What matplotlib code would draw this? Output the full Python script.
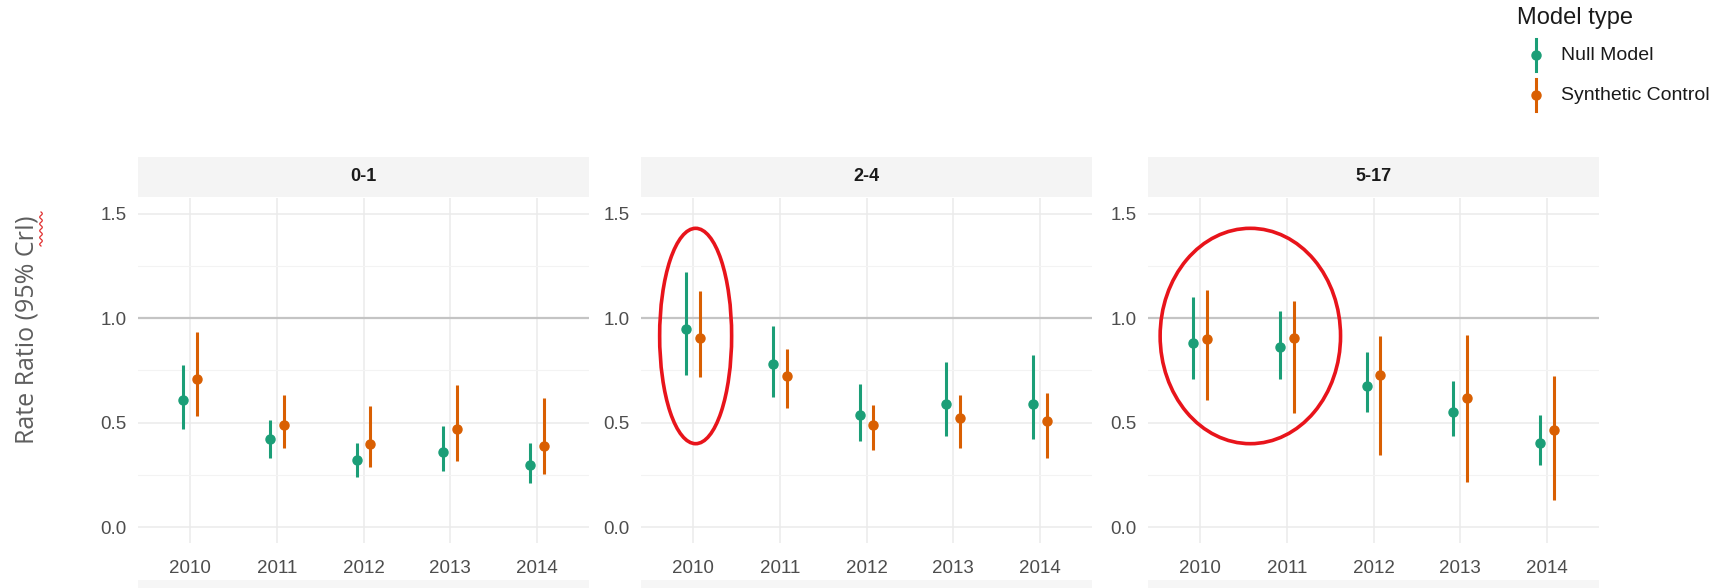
import numpy as np
import matplotlib.pyplot as plt
from matplotlib.patches import Ellipse, Rectangle
from matplotlib.lines import Line2D

years = [2010, 2011, 2012, 2013, 2014]
age_groups = ["0-1", "2-4", "5-17"]
model_types = ["Null Model", "Synthetic Control"]

# rate ratio estimates with 95% CrI, one row per age group
null_mid = [[0.61, 0.42, 0.32, 0.36, 0.30],
            [0.95, 0.78, 0.535, 0.59, 0.59],
            [0.88, 0.86, 0.675, 0.55, 0.405]]
null_lo = [[0.47, 0.33, 0.24, 0.27, 0.21],
           [0.73, 0.625, 0.415, 0.435, 0.42],
           [0.71, 0.71, 0.55, 0.435, 0.30]]
null_hi = [[0.775, 0.515, 0.405, 0.485, 0.405],
           [1.22, 0.965, 0.685, 0.79, 0.825],
           [1.10, 1.035, 0.84, 0.70, 0.535]]

synth_mid = [[0.71, 0.49, 0.40, 0.47, 0.39],
             [0.905, 0.725, 0.49, 0.525, 0.51],
             [0.90, 0.905, 0.73, 0.62, 0.465]]
synth_lo = [[0.53, 0.38, 0.29, 0.315, 0.255],
            [0.72, 0.57, 0.37, 0.38, 0.33],
            [0.61, 0.545, 0.345, 0.215, 0.13]]
synth_hi = [[0.935, 0.635, 0.58, 0.68, 0.62],
            [1.13, 0.855, 0.585, 0.635, 0.64],
            [1.135, 1.08, 0.915, 0.92, 0.725]]

colors = ["#1B9E77", "#D95F02"]
dodge = 0.08

plt.rcParams["font.family"] = ["Liberation Sans", "DejaVu Sans"]

fig = plt.figure(figsize=(17.3, 5.88), dpi=100)

lefts = [138 / 1730, 641 / 1730, 1148 / 1730]
pw = 451 / 1730
pb = 1 - 543 / 588
ph = 345 / 588

for i, grp in enumerate(age_groups):
    ax = fig.add_axes([lefts[i], pb, pw, ph])
    ax.set_xlim(2009.4, 2014.6)
    ax.set_ylim(-0.075, 1.575)
    for s in ax.spines.values():
        s.set_visible(False)
    ax.set_xticks(years)
    ax.set_yticks([0, 0.5, 1.0, 1.5])
    ax.set_yticks([0.25, 0.75, 1.25], minor=True)
    ax.set_yticklabels(["0.0", "0.5", "1.0", "1.5"])
    ax.tick_params(length=0, labelsize=13.5, labelcolor="#4d4d4d", which="both")
    ax.tick_params(axis="x", pad=12)
    ax.tick_params(axis="y", pad=8)
    ax.grid(True, which="major", color="#ebebeb", lw=1.1)
    ax.grid(True, which="minor", axis="y", color="#f3f3f3", lw=0.8)
    ax.set_axisbelow(True)

    ax.axhline(1.0, color="#c4c4c4", lw=1.6, zorder=1)

    x = np.array(years)
    series = [(null_mid[i], null_lo[i], null_hi[i]), (synth_mid[i], synth_lo[i], synth_hi[i])]
    for j, (mid, lo, hi) in enumerate(series):
        xs = x + (-dodge if j == 0 else dodge)
        ax.vlines(xs, lo, hi, color=colors[j], lw=2.2, zorder=3)
        ax.plot(xs, mid, "o", color=colors[j], ms=6.5, zorder=4)

    # facet strip
    ax.add_patch(Rectangle((0, 1.003), 1, 40 / 345, transform=ax.transAxes,
                           facecolor="#f4f4f4", edgecolor="none", clip_on=False))
    ax.text(0.5, 1.003 + 20 / 345, grp, transform=ax.transAxes, ha="center",
            va="center", fontsize=13, fontweight="bold", color="#1a1a1a")
    # faint edge of strip below
    ax.add_patch(Rectangle((0, -37 / 345), 1, -10 / 345, transform=ax.transAxes,
                           facecolor="#f6f6f6", edgecolor="none", clip_on=False))

    if i == 1:
        ax.add_patch(Ellipse((2010.03, 0.915), 0.83, 1.03, fill=False,
                             edgecolor="#e8141b", lw=2.6, clip_on=False, zorder=5))
    if i == 2:
        ax.add_patch(Ellipse((2010.58, 0.915), 2.08, 1.03, fill=False,
                             edgecolor="#e8141b", lw=2.6, clip_on=False, zorder=5))

# y axis title
fig.text(27 / 1730, 1 - 330 / 588, "Rate Ratio (95% CrI)", rotation=90,
         ha="center", va="center", fontsize=18, color="#5e5e5e",
         family=["Open Sans", "DejaVu Sans"])
wy = np.linspace(212, 246, 60)
wx = 41 + 1.3 * np.sin((wy - 212) / 34 * 2 * np.pi * 5)
fig.add_artist(Line2D(wx / 1730, 1 - wy / 588, color="#e03030", lw=0.9))

# legend
fig.text(1517 / 1730, 1 - 18 / 588, "Model type", ha="left", va="center",
         fontsize=17, color="#1a1a1a")
for k, (lab, yc) in enumerate(zip(model_types, [55, 95])):
    fig.add_artist(Line2D([1536 / 1730, 1536 / 1730],
                          [1 - (yc - 16) / 588, 1 - (yc + 16) / 588],
                          color=colors[k], lw=2.2))
    fig.add_artist(Line2D([1536 / 1730], [1 - yc / 588], marker="o",
                          color=colors[k], ms=6.5))
    fig.text(1561 / 1730, 1 - yc / 588, lab, ha="left", va="center",
             fontsize=14, color="#1a1a1a")

fig.savefig("out.png", dpi=100)
